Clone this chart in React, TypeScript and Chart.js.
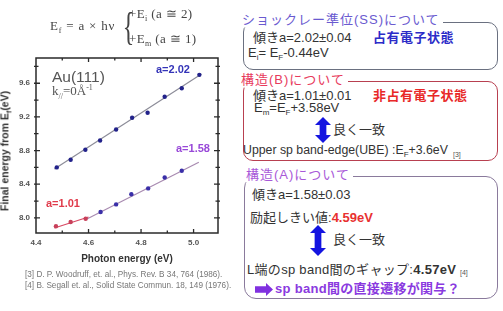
import React, { useEffect, useRef } from "react";
import { Chart, registerables } from "chart.js";

Chart.register(...registerables);

// ---- data ----
const photonUpper = [4.479, 4.532, 4.588, 4.644, 4.705, 4.766, 4.825, 4.89, 4.955, 5.022];
const energyUpper = [8.6, 8.69, 8.81, 8.92, 9.05, 9.19, 9.25, 9.44, 9.54, 9.7];
const photonLower = [4.476, 4.532, 4.589, 4.646, 4.705, 4.763, 4.827, 4.89, 4.955];
const energyLower = [7.9, 7.95, 7.99, 8.07, 8.16, 8.28, 8.35, 8.48, 8.56];
const fitUpperX = [4.47, 5.03];
const fitUpperY = [8.58, 9.71];
const fitRedX = [4.47, 4.6];
const fitRedY = [7.88, 8.01];
const fitPurpleX = [4.59, 5.02];
const fitPurpleY = [7.98, 8.66];
const xTicks = [4.4, 4.6, 4.8, 5.0];
const xMinorTicks = [4.5, 4.7, 4.9];
const yTicks = [8.0, 8.4, 8.8, 9.2, 9.6];
const yMinorTicks = [8.2, 8.6, 9.0, 9.4, 9.8];
const xRange = [4.4, 5.093];
const yRange = [7.82, 9.9];

const pts = (xs: number[], ys: number[]) => xs.map((x, i) => ({ x, y: ys[i] }));

const frameTicks = {
  id: "frameTicks",
  afterDraw(chart: any) {
    const { ctx, chartArea: a, scales } = chart;
    const xs = scales.x;
    const ys = scales.y;
    ctx.save();
    ctx.strokeStyle = "#2a2a2a";
    ctx.lineWidth = 1.3;
    const tick = (vals: number[], len: number) => {
      vals.forEach((v) => {
        const px = xs.getPixelForValue(v);
        if (px > a.left + 1 && px < a.right - 1) {
          ctx.beginPath();
          ctx.moveTo(px, a.bottom);
          ctx.lineTo(px, a.bottom - len);
          ctx.moveTo(px, a.top);
          ctx.lineTo(px, a.top + len);
          ctx.stroke();
        }
      });
    };
    const ytick = (vals: number[], len: number) => {
      vals.forEach((v) => {
        const py = ys.getPixelForValue(v);
        if (py > a.top + 1 && py < a.bottom - 1) {
          ctx.beginPath();
          ctx.moveTo(a.left - 2, py);
          ctx.lineTo(a.left + len, py);
          ctx.moveTo(a.right + 2, py);
          ctx.lineTo(a.right - len, py);
          ctx.stroke();
        }
      });
    };
    tick(xTicks, 4);
    tick(xMinorTicks, 2.5);
    ytick(yTicks, 4);
    ytick(yMinorTicks, 2.5);
    ctx.lineWidth = 1.5;
    ctx.strokeRect(a.left, a.top, a.right - a.left, a.bottom - a.top);
    ctx.restore();
  },
};

function ChartBox() {
  const ref = useRef<HTMLCanvasElement | null>(null);
  useEffect(() => {
    if (!ref.current) return;
    const lowerColors = photonLower.map((_, i) => (i < 3 ? "#c8405a" : "#3a2fa8"));
    const chart = new Chart(ref.current, {
      type: "scatter",
      data: {
        datasets: [
          {
            data: pts(photonUpper, energyUpper),
            pointRadius: 2.2,
            pointBorderWidth: 0,
            pointBackgroundColor: "#22228a",
            showLine: false,
          },
          {
            data: pts(photonLower, energyLower),
            pointRadius: 2.2,
            pointBorderWidth: 0,
            pointBackgroundColor: lowerColors,
            showLine: false,
          },
          {
            data: pts(fitUpperX, fitUpperY),
            showLine: true,
            pointRadius: 0,
            borderColor: "#8c8c98",
            borderWidth: 1.2,
          },
          {
            data: pts(fitRedX, fitRedY),
            showLine: true,
            pointRadius: 0,
            borderColor: "#d84a64",
            borderWidth: 1.2,
          },
          {
            data: pts(fitPurpleX, fitPurpleY),
            showLine: true,
            pointRadius: 0,
            borderColor: "#a88ab0",
            borderWidth: 1.2,
          },
        ],
      } as any,
      options: {
        animation: false,
        responsive: false,
        devicePixelRatio: 1,
        layout: { padding: { top: 58, right: 22, left: 0, bottom: 0 } },
        plugins: { legend: { display: false }, tooltip: { enabled: false } },
        scales: {
          x: {
            type: "linear",
            min: xRange[0],
            max: xRange[1],
            grid: { display: false, drawTicks: false },
            border: { display: false },
            afterBuildTicks: (s: any) => {
              s.ticks = xTicks.map((v) => ({ value: v }));
            },
            afterFit: (s: any) => {
              s.height = 78;
            },
            ticks: {
              padding: 5,
              color: "#555",
              font: { family: "Liberation Sans", size: 8, weight: "bold" },
              callback: (v: any) => Number(v).toFixed(1),
              maxRotation: 0,
            },
          },
          y: {
            type: "linear",
            min: yRange[0],
            max: yRange[1],
            grid: { display: false, drawTicks: false },
            border: { display: false },
            afterBuildTicks: (s: any) => {
              s.ticks = yTicks.map((v) => ({ value: v }));
            },
            afterFit: (s: any) => {
              s.width = 36;
            },
            ticks: {
              padding: 6,
              color: "#555",
              font: { family: "Liberation Sans", size: 8, weight: "bold" },
              callback: (v: any) => Number(v).toFixed(1),
            },
          },
        },
      } as any,
      plugins: [frameTicks],
    });
    return () => chart.destroy();
  }, []);
  return (
    <canvas
      ref={ref}
      width={240}
      height={311}
      style={{ position: "absolute", left: 0, top: 0, width: 240, height: 311 }}
    />
  );
}

type TP = {
  x: number;
  y: number;
  size?: number;
  color?: string;
  bold?: boolean;
  family?: string;
  bg?: string;
  ls?: number;
  children?: React.ReactNode;
  style?: React.CSSProperties;
};

function T({ x, y, size = 13, color = "#333", bold, family, bg, ls, children, style }: TP) {
  return (
    <div
      style={{
        position: "absolute",
        left: x,
        top: y,
        transform: "translateY(-50%)",
        fontSize: size,
        lineHeight: 1.15,
        color,
        fontWeight: bold ? 700 : 400,
        fontFamily: family || "'Liberation Sans', 'Noto Sans CJK JP', sans-serif",
        whiteSpace: "nowrap",
        background: bg,
        letterSpacing: ls,
        ...style,
      }}
    >
      {children}
    </div>
  );
}

function Box({ l, t, r, b, color, radius = 10 }: { l: number; t: number; r: number; b: number; color: string; radius?: number }) {
  return (
    <div
      style={{
        position: "absolute",
        left: l,
        top: t,
        width: r - l,
        height: b - t,
        border: `1px solid ${color}`,
        borderRadius: radius,
        boxSizing: "border-box",
      }}
    />
  );
}

function DoubleArrow({ x, y, w, h, color }: { x: number; y: number; w: number; h: number; color: string }) {
  const hh = 8;
  const s = w * 0.42;
  const cx = w / 2;
  const p = [
    [cx, 0],
    [w, hh],
    [cx + s / 2, hh],
    [cx + s / 2, h - hh],
    [w, h - hh],
    [cx, h],
    [0, h - hh],
    [cx - s / 2, h - hh],
    [cx - s / 2, hh],
    [0, hh],
  ]
    .map((q) => q.join(","))
    .join(" ");
  return (
    <svg style={{ position: "absolute", left: x, top: y }} width={w} height={h}>
      <polygon points={p} fill={color} />
    </svg>
  );
}

function RightArrow({ x, y, w, h, color }: { x: number; y: number; w: number; h: number; color: string }) {
  const hw = 7;
  const p = [
    [0, h * 0.25],
    [w - hw, h * 0.25],
    [w - hw, 0],
    [w, h / 2],
    [w - hw, h],
    [w - hw, h * 0.75],
    [0, h * 0.75],
  ]
    .map((q) => q.join(","))
    .join(" ");
  return (
    <svg style={{ position: "absolute", left: x, top: y }} width={w} height={h}>
      <polygon points={p} fill={color} />
    </svg>
  );
}

const serif = "'Liberation Serif', 'DejaVu Serif', serif";
const sub = { fontSize: 8 };

export default function App() {
  return (
    <div
      style={{
        position: "fixed",
        left: 0,
        top: 0,
        width: 503,
        height: 311,
        background: "#fff",
        overflow: "hidden",
        fontFamily: "'Liberation Sans', sans-serif",
      }}
    >
      <ChartBox />

      {/* equation */}
      <T x={50} y={27} size={13} family={serif} color="#444" ls={0.8}>
        E<sub style={sub}>f</sub> = a × hν
      </T>
      <T x={119} y={27} size={40} family={serif} color="#444" style={{ transform: "translateY(-50%) scaleX(0.6)" }}>
        {"{"}
      </T>
      <T x={129} y={15} size={13} family={serif} color="#444" ls={0.4}>
        +E<sub style={sub}>i</sub> (a ≅ 2)
      </T>
      <T x={129} y={40} size={13} family={serif} color="#444" ls={0.4}>
        +E<sub style={sub}>m</sub> (a ≅ 1)
      </T>

      {/* chart annotations */}
      <T x={52} y={77} size={15.5} color="#555">
        Au(111)
      </T>
      <T x={52} y={92} size={13} family={serif} color="#555">
        k<sub style={sub}>//</sub>=0Å<sup style={sub}>-1</sup>
      </T>
      <T x={156} y={69} size={11} bold color="#3434b8">
        a=2.02
      </T>
      <T x={176} y={148} size={11} bold color="#9848d8">
        a=1.58
      </T>
      <T x={46} y={203} size={11} bold color="#e03a4a">
        a=1.01
      </T>

      {/* axis titles */}
      <T x={127} y={259} size={10} bold color="#333" style={{ transform: "translate(-50%, -50%)" }}>
        Photon energy (eV)
      </T>
      <T x={6} y={151} size={10.5} bold color="#333" style={{ transform: "translate(-50%, -50%) rotate(-90deg)" }}>
        Final energy from E<sub style={{ fontSize: 7 }}>f</sub>(eV)
      </T>

      {/* references */}
      <T x={25} y={275} size={8.2} color="#777">
        [3] D. P. Woodruff, et. al., Phys. Rev. B 34, 764 (1986).
      </T>
      <T x={25} y={286} size={8.2} color="#777">
        [4] B. Segall et. al., Solid State Commun. 18, 149 (1976).
      </T>

      {/* box 1 */}
      <Box l={243} t={22} r={498} b={70} color="#6a7080" />
      <T x={242} y={20} color="#6a5ad0" bg="#fff" ls={1} style={{ paddingRight: 3 }}>
        ショックレー準位(SS)について
      </T>
      <T x={253} y={38}>傾きa=2.02±0.04</T>
      <T x={373} y={38} bold color="#2c2cc8" ls={0.5}>
        占有電子状態
      </T>
      <T x={248} y={54}>
        E<sub style={sub}>i</sub>= E<sub style={sub}>F</sub>-0.44eV
      </T>

      {/* box 2 */}
      <Box l={243} t={81} r={498} b={161} color="#b84050" />
      <T x={241} y={80} color="#e83a5c" bg="#fff" ls={1} style={{ paddingRight: 3 }}>
        構造(B)について
      </T>
      <T x={253} y={96}>傾きa=1.01±0.01</T>
      <T x={373} y={96} bold color="#e82828" ls={0.5}>
        非占有電子状態
      </T>
      <T x={254} y={109}>
        E<sub style={sub}>m</sub>=E<sub style={sub}>F</sub>+3.58eV
      </T>
      <DoubleArrow x={315} y={117} w={16} h={26} color="#1414e0" />
      <T x={333} y={130}>良く一致</T>
      <T x={243} y={151} size={12.3}>
        Upper sp band-edge(UBE) :E<sub style={sub}>F</sub>+3.6eV
      </T>
      <T x={453} y={155} size={7} color="#555">
        [3]
      </T>

      {/* box 3 */}
      <Box l={244} t={176} r={498} b={299} color="#8a7a9c" radius={12} />
      <T x={246} y={175} color="#a858d8" bg="#fff" ls={1} style={{ paddingRight: 3 }}>
        構造(A)について
      </T>
      <T x={252} y={195}>傾きa=1.58±0.03</T>
      <T x={250} y={218}>
        励起しきい値:<span style={{ color: "#e83030", fontWeight: 700 }}>4.59eV</span>
      </T>
      <DoubleArrow x={310} y={225} w={16} h={31} color="#1414e0" />
      <T x={333} y={240}>良く一致</T>
      <T x={247} y={270} ls={0.3}>
        L端のsp band間のギャップ:<span style={{ fontWeight: 700 }}>4.57eV</span>
      </T>
      <T x={460} y={273} size={7} color="#555">
        [4]
      </T>
      <RightArrow x={255} y={283} w={18} h={13} color="#8030e0" />
      <T x={275} y={289} bold color="#8a3ae0" ls={0.3}>
        sp band間の直接遷移が関与？
      </T>
    </div>
  );
}
